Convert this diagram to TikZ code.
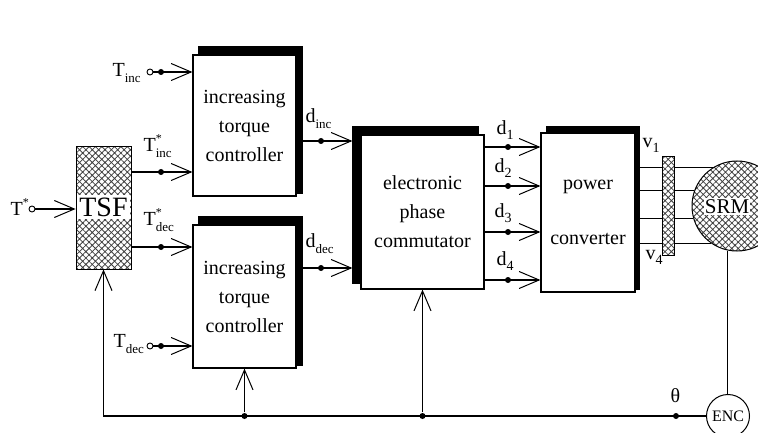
\documentclass[tikz,border=0pt]{standalone}
\usepackage{fontspec}
\setmainfont{Liberation Serif}
\usetikzlibrary{arrows.meta,patterns.meta}
\newcommand\Sb[2]{#1\raisebox{-6pt}{\fontsize{13}{13}\selectfont #2}}
\newcommand\Ss[2]{#1\rlap{\raisebox{9pt}{\fontsize{12}{12}\selectfont *}}\raisebox{-6pt}{\fontsize{13}{13}\selectfont #2}}
\newcommand\shdR[3]{\fill ([xshift=6pt]#1.north west) rectangle ([xshift=#2,yshift=#3]#1.north east);
 \fill ([yshift=#3]#1.north east) rectangle ([xshift=#2,yshift=3pt]#1.south east);}
\begin{document}
\begin{tikzpicture}[x=1pt,y=-1pt,line width=1.2pt,
  arr/.style={-{Straight Barb[length=20pt,width=17pt,line width=1pt]}},
  box/.style={draw,line width=1.2pt,fill=white,inner sep=0,align=center,font=\rmfamily\fontsize{20}{29}\selectfont},
  dot/.style={circle,fill,inner sep=0,minimum size=6pt},
  ocirc/.style={circle,draw,fill=white,inner sep=0,minimum size=6pt,line width=0.9pt},
  lab/.style={inner sep=0,font=\rmfamily\fontsize{20}{24}\selectfont},
  hatchbox/.style={draw,line width=1pt,inner sep=0,preaction={fill=white},
    pattern={Hatch[angle=45,distance=4.5pt,line width=0.8pt]},pattern color=black!75}]
\useasboundingbox (0,0) rectangle (758,433);

% blocks
\node[hatchbox,minimum width=55pt,minimum height=122pt] (tsf) at (103.5,208) {};
\node[fill=white,minimum width=53pt,minimum height=24pt,inner sep=0,font=\rmfamily\fontsize{28}{28}\selectfont] (tsftext) at (103.5,207) {TSF};
\node[box,minimum width=103pt,minimum height=141pt] (ic1) at (244.5,125.5) {increasing\\torque\\controller};
\node[box,minimum width=103pt,minimum height=143pt] (ic2) at (244.5,296.5) {increasing\\torque\\controller};
\node[box,minimum width=123pt,minimum height=154pt] (epc) at (422.5,212) {electronic\\phase\\commutator};
\node[box,minimum width=94pt,minimum height=159pt] (pc) at (588,212.5) {power\\[26pt]converter};

% shadows
\shdR{ic1}{6pt}{8pt}
\shdR{ic2}{6pt}{8pt}
\shdR{pc}{4pt}{6pt}
\fill ([xshift=-8pt,yshift=8pt]epc.north west) rectangle ([xshift=-6pt]epc.north east);
\fill ([xshift=-8pt]epc.north west) rectangle ([yshift=6pt]epc.south west);

% SRM and encoder
\node[hatchbox,circle,minimum size=90pt] (srm) at (737,206) {};
\node[fill=white,inner sep=1pt,font=\rmfamily\fontsize{21}{21}\selectfont] (srmtext) at (727,206.5) {SRM};
\node[draw,circle,fill=white,minimum size=43pt,inner sep=0,line width=1pt,font=\rmfamily\fontsize{16}{16}\selectfont] (enc) at (728,416) {ENC};

% T* input
\node[lab,anchor=base west] (tstar) at (10,215) {T\raisebox{9pt}{\fontsize{12}{12}\selectfont *}};
\node[ocirc] (o0) at (32,209) {};
\draw[arr] (o0) -- (tsf.west |- o0);

% TSF outputs
\node[dot] (p2) at (161,172) {};
\draw[arr] (tsf.east |- p2) -- (ic1.west |- p2);
\node[lab,anchor=base west] (tincs) at (143,152) {\Ss{T}{inc}};
\node[dot] (p3) at (161,247) {};
\draw[arr] (tsf.east |- p3) -- (ic2.west |- p3);
\node[lab,anchor=base west] (tdecs) at (143,225) {\Ss{T}{dec}};

% external torque inputs
\node[ocirc] (o1) at (150,72) {};
\node[dot] (p1) at (161,72) {};
\draw[arr] (o1) -- (ic1.west |- o1);
\node[lab,anchor=base west] (tinc) at (112,77) {\Sb{T}{inc}};
\node[ocirc] (o4) at (150,346) {};
\node[dot] (p4) at (161,346) {};
\draw[arr] (o4) -- (ic2.west |- o4);
\node[lab,anchor=base west] (tdec) at (113,347) {\Sb{T}{dec}};

% controller outputs
\coordinate (epcL) at ([xshift=-8pt]epc.west);
\node[dot] (p5) at (321,141) {};
\draw[arr] (ic1.east |- p5) -- (epcL |- p5);
\node[lab,anchor=base west] (dinc) at (305,123) {\Sb{d}{inc}};
\node[dot] (p6) at (321,268) {};
\draw[arr] (ic2.east |- p6) -- (epcL |- p6);
\node[lab,anchor=base west] (ddec) at (305,247) {\Sb{d}{dec}};

% commutator outputs
\foreach \y/\n/\lx/\ly in {147/1/496/135,186/2/494/173,232/3/494/218,280/4/496/265}{
  \node[dot] (q\n) at (508,\y) {};
  \draw[arr] (epc.east |- q\n) -- (pc.west |- q\n);
  \node[lab,anchor=base west] (dl\n) at (\lx,\ly) {d\raisebox{-5pt}{\fontsize{14}{14}\selectfont \n}};
}

% converter to SRM
\foreach \a in {122.4,160.5,196.8,235.3}{
  \draw (pc.east |- srm.\a) -- (srm.\a);
}
\node[hatchbox,minimum width=12pt,minimum height=98pt] (strip) at (668,206) {};
\node[lab,anchor=base west] (v1) at (642,148) {v\raisebox{-5pt}{\fontsize{14}{14}\selectfont 1}};
\node[lab,anchor=base west] (v4) at (645,259) {v\raisebox{-5pt}{\fontsize{14}{14}\selectfont 4}};

% encoder and feedback
\draw (srm.258.5) -- (srm.258.5 |- enc.north);
\coordinate (fc) at (tsf.south |- enc.west);
\node[dot] (j1) at (ic2.south |- enc.west) {};
\node[dot] (j2) at (epc.south |- enc.west) {};
\node[dot] (j3) at (676,416) {};
\draw[arr] (enc.west) -- (fc) -- (tsf.south);
\draw[arr] (j1) -- (ic2.south);
\draw[arr] (j2) -- (epc.south);
\node[lab,anchor=base west] (theta) at (670,402) {θ};
\end{tikzpicture}
\end{document}
